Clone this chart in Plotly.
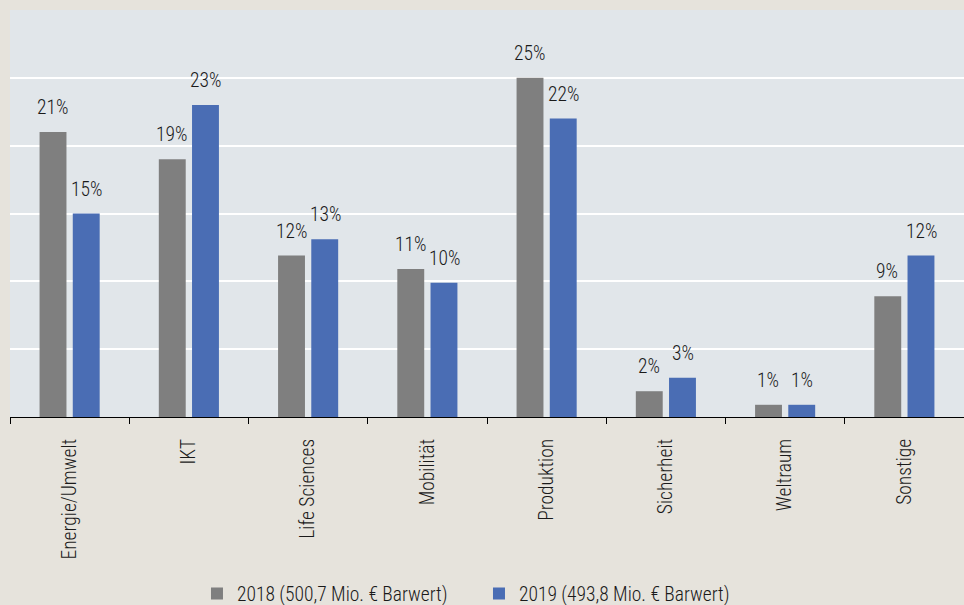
import plotly.graph_objects as go

categories = ["Energie/Umwelt", "IKT", "Life Sciences", "Mobilität", "Produktion",
              "Sicherheit", "Weltraum", "Sonstige"]
values_2018 = [21.0, 19.0, 11.9, 10.9, 25.0, 1.9, 0.9, 8.9]
values_2019 = [15.0, 23.0, 13.1, 9.9, 22.0, 2.9, 0.9, 11.9]
labels_2018 = ["21%", "19%", "12%", "11%", "25%", "2%", "1%", "9%"]
labels_2019 = ["15%", "23%", "13%", "10%", "22%", "3%", "1%", "12%"]
name_2018 = "2018 (500,7 Mio. € Barwert)"
name_2019 = "2019 (493,8 Mio. € Barwert)"
y_ticks = [0, 5, 10, 15, 20, 25, 30]

FONT = "Roboto Condensed, Arial Narrow, Roboto, sans-serif"
FSIZE = 19.5
TXT = "#1a1a1a"
GRAY = "#7f7f7f"
BLUE = "#4a6db4"

fig = go.Figure()
fig.add_trace(go.Bar(x=categories, y=values_2018, name=name_2018,
                     marker=dict(color=GRAY, line=dict(width=0))))
fig.add_trace(go.Bar(x=categories, y=values_2019, name=name_2019,
                     marker=dict(color=BLUE, line=dict(width=0))))

label_font = dict(family=FONT, size=FSIZE, color=TXT, weight=300)
annotations = []
for cat, v, t in zip(categories, values_2018, labels_2018):
    annotations.append(dict(x=cat, y=v, text=t, showarrow=False, xshift=-17,
                            yanchor="bottom", yshift=11, font=label_font))
for cat, v, t in zip(categories, values_2019, labels_2019):
    annotations.append(dict(x=cat, y=v, text=t, showarrow=False, xshift=17,
                            yanchor="bottom", yshift=11, font=label_font))

fig.update_layout(
    width=964, height=605,
    margin=dict(l=10, r=0, t=10, b=188),
    paper_bgcolor="#e6e3dc",
    plot_bgcolor="#e1e6ea",
    barmode="group",
    bargap=0.443,
    bargroupgap=0.19,
    font=dict(family=FONT, size=FSIZE, color=TXT, weight=300),
    annotations=annotations,
    showlegend=True,
    legend=dict(orientation="h", x=0.4916, xanchor="center", yref="container",
                y=0.0185, yanchor="middle", entrywidth=237,
                font=dict(family=FONT, size=FSIZE, color=TXT, weight=300),
                bgcolor="rgba(0,0,0,0)", itemclick=False),
    xaxis=dict(tickangle=-90, tickson="boundaries", ticks="outside", ticklen=6,
               tickcolor="#000000", showline=True, linecolor="#000000", linewidth=1,
               showgrid=False,
               tickfont=dict(family=FONT, size=FSIZE, color=TXT, weight=300),
               ticklabelstandoff=13),
    yaxis=dict(range=[0, 30], tickvals=y_ticks, showticklabels=False,
               showgrid=True, gridcolor="#ffffff", gridwidth=2,
               zeroline=False, showline=False, ticks=""),
)

fig.write_html("out.html", config={"displayModeBar": False},
               post_script="document.body.style.margin='0';")
